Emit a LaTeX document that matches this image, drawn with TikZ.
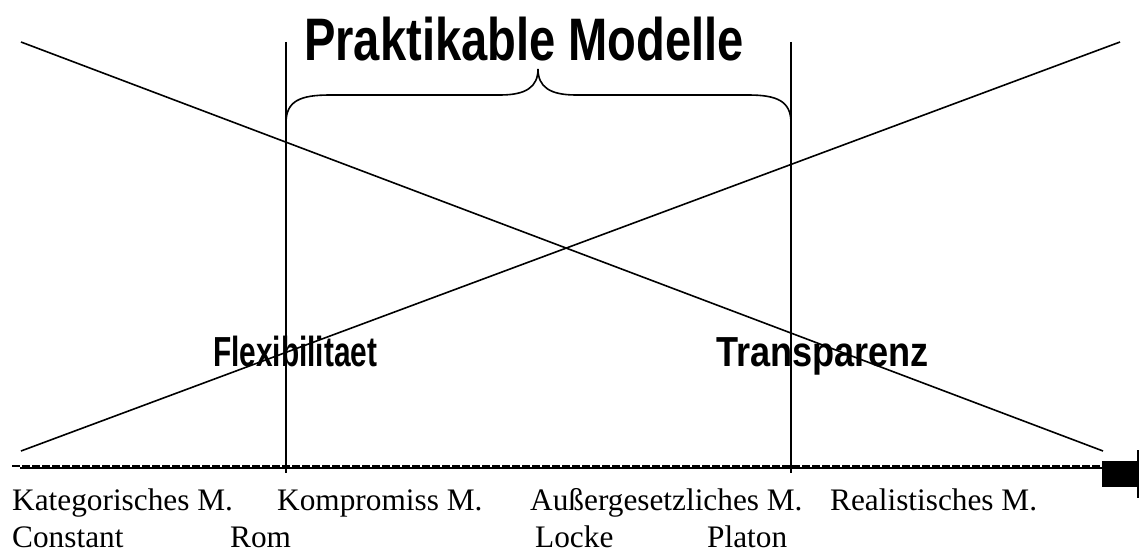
\documentclass[tikz,border=0pt]{standalone}
\usepackage{fontspec}
\setmainfont{Liberation Serif}
\setsansfont{Liberation Sans}
\tikzset{
  rule/.style={line width=1.6pt, line cap=butt},
  serif label/.style={anchor=base west, inner sep=0pt, font=\fontsize{31.3}{37}\selectfont},
  sans label/.style={anchor=base west, inner sep=0pt},
}
\newcommand{\squeezed}[3]{\scalebox{#1}[1]{\fontsize{#2}{#2}\selectfont\sffamily\bfseries #3}}
\begin{document}
\begin{tikzpicture}[x=1pt, y=-1pt]
\useasboundingbox (0,0) rectangle (1139,551);

% end points of the two crossing lines
\coordinate (fallTop) at (21,42);
\coordinate (fallEnd) at (1103,451);
\coordinate (riseStart) at (21,451);
\coordinate (riseTop) at (1120,42);
\draw[rule] (fallTop) -- (fallEnd);
\draw[rule] (riseStart) -- (riseTop);

% the two vertical bounds
\coordinate (leftTop) at (286,42);
\coordinate (leftBot) at (286,473);
\coordinate (rightTop) at (791,42);
\coordinate (rightBot) at (791,473);
\draw[rule] (leftTop) -- (leftBot);
\draw[rule] (rightTop) -- (rightBot);

% curly brace between the bounds
\coordinate (braceTip) at (538,69);
\draw[rule] (286,123) .. controls (286,101) and (300,95) .. (330,95)
  -- (500,95) .. controls (526,95) and (538,87) .. (braceTip)
  .. controls (538,87) and (550,95) .. (576,95)
  -- (748,95) .. controls (777,95) and (791,101) .. (791,123);

% axis
\coordinate (axisStart) at (12,466);
\coordinate (axisEnd) at (1102,466);
\draw[line width=1.5pt] (20,468) -- (1102,468);
\draw[line width=1.5pt, dash pattern=on 8pt off 2pt] (axisStart) -- (axisEnd);
\fill (1102,461) rectangle (1137,487);
\draw[line width=2pt] (1138,450) -- (1138,498);

% headings
\node[sans label] (title) at (304,60) {\squeezed{0.785}{60}{Praktikable Modelle}};
\node[sans label] (flex) at (213,366) {\squeezed{0.71}{42}{Flexibilitaet}};
\node[sans label] (trans) at (716,366) {\squeezed{0.86}{42}{Transparenz}};

% model names and authors
\node[serif label] (m1) at (12,510) {Kategorisches M.};
\node[serif label] (m2) at (277,510) {Kompromiss M.};
\node[serif label] (m3) at (530,510) {Außergesetzliches M.};
\node[serif label] (m4) at (830,510) {Realistisches M.};
\node[serif label] (a1) at (12,547) {Constant};
\node[serif label] (a2) at (230,547) {Rom};
\node[serif label] (a3) at (535,547) {Locke};
\node[serif label] (a4) at (707,547) {Platon};
\end{tikzpicture}
\end{document}
